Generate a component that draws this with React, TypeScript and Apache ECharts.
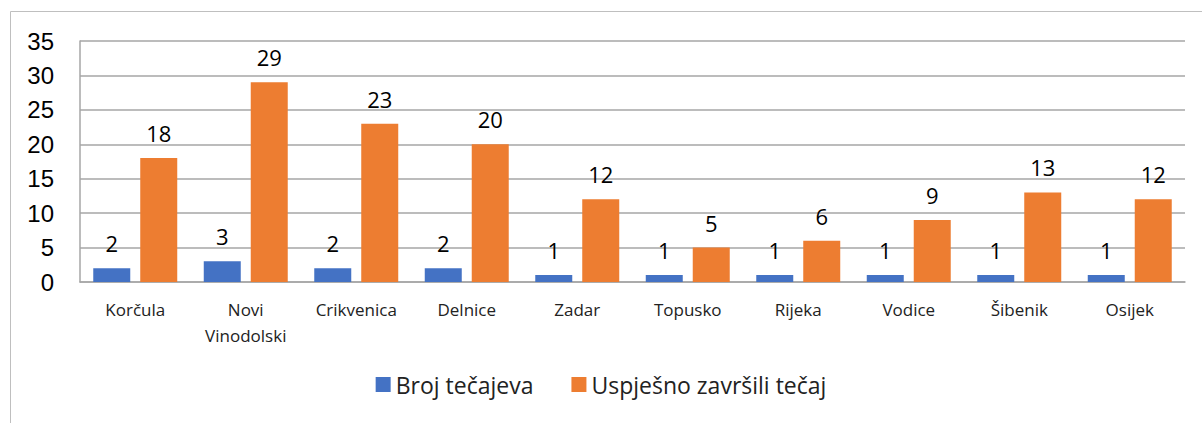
import React, { useEffect, useRef } from "react";
import * as echarts from "echarts";

const categories = ["Korčula", "Novi\nVinodolski", "Crikvenica", "Delnice", "Zadar", "Topusko", "Rijeka", "Vodice", "Šibenik", "Osijek"];
const brojTecajeva = [2, 3, 2, 2, 1, 1, 1, 1, 1, 1];
const uspjesnoZavrsili = [18, 29, 23, 20, 12, 5, 6, 9, 13, 12];
const seriesNames = ["Broj tečajeva", "Uspješno završili tečaj"];

export default function App() {
  const ref = useRef<HTMLDivElement>(null);
  useEffect(() => {
    if (!ref.current) return;
    const chart = echarts.init(ref.current, null, { renderer: "svg" });
    const labelStyle = {
      show: true,
      position: "top" as const,
      distance: 14,
      fontSize: 22,
      fontFamily: "Open Sans",
      color: "#000",
    };
    chart.setOption({
      animation: false,
      backgroundColor: "#fff",
      graphic: [
        {
          type: "rect",
          shape: { x: 10.5, y: 11.5, width: 1200, height: 430 },
          style: { fill: "none", stroke: "#bfbfbf", lineWidth: 1 },
          silent: true,
        },
      ],
      grid: { left: 80, right: 17, top: 41, bottom: 141, containLabel: false },
      legend: {
        data: seriesNames,
        bottom: 22,
        left: "center",
        itemWidth: 15,
        itemHeight: 15,
        itemGap: 38,
        icon: "rect",
        textStyle: { fontSize: 23, fontFamily: "Open Sans", color: "#222" },
      },
      xAxis: {
        type: "category",
        data: categories,
        axisLine: { show: true, lineStyle: { color: "#a6a6a6", width: 1.5 } },
        axisTick: { show: false },
        axisLabel: {
          fontSize: 17,
          fontFamily: "Open Sans",
          color: "#222",
          margin: 14,
          lineHeight: 26,
          interval: 0,
        },
      },
      yAxis: {
        type: "value",
        min: 0,
        max: 35,
        interval: 5,
        axisLine: { show: true, lineStyle: { color: "#a6a6a6", width: 1.5 } },
        axisTick: { show: false },
        splitLine: { lineStyle: { color: "#a6a6a6", width: 1.5 } },
        axisLabel: {
          fontSize: 24,
          fontFamily: "Liberation Sans",
          color: "#000",
          margin: 26,
        },
      },
      series: [
        {
          name: seriesNames[0],
          type: "bar",
          data: brojTecajeva,
          barWidth: 37,
          barGap: "27%",
          itemStyle: { color: "#4472C4" },
          label: labelStyle,
        },
        {
          name: seriesNames[1],
          type: "bar",
          data: uspjesnoZavrsili,
          barWidth: 37,
          itemStyle: { color: "#ED7D31" },
          label: labelStyle,
        },
      ],
    });
    return () => chart.dispose();
  }, []);
  return (
    <div
      ref={ref}
      style={{ position: "fixed", left: 0, top: 0, width: 1202, height: 423 }}
    />
  );
}
